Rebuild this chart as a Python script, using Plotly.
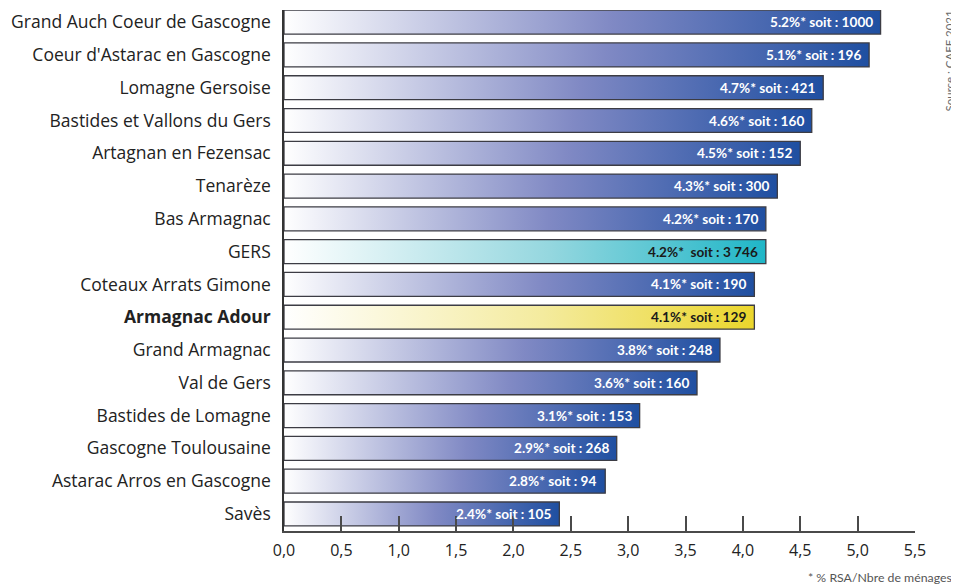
import plotly.graph_objects as go

categories = [
    "Grand Auch Coeur de Gascogne",
    "Coeur d'Astarac en Gascogne",
    "Lomagne Gersoise",
    "Bastides et Vallons du Gers",
    "Artagnan en Fezensac",
    "Tenarèze",
    "Bas Armagnac",
    "GERS",
    "Coteaux Arrats Gimone",
    "Armagnac Adour",
    "Grand Armagnac",
    "Val de Gers",
    "Bastides de Lomagne",
    "Gascogne Toulousaine",
    "Astarac Arros en Gascogne",
    "Savès",
]
rates = [5.2, 5.1, 4.7, 4.6, 4.5, 4.3, 4.2, 4.2, 4.1, 4.1, 3.8, 3.6, 3.1, 2.9, 2.8, 2.4]
households = ["1000", "196", "421", "160", "152", "300", "170", "3 746",
              "190", "129", "248", "160", "153", "268", "94", "105"]
x_ticks = [0, 0.5, 1, 1.5, 2, 2.5, 3, 3.5, 4, 4.5, 5, 5.5]
x_tick_labels = ["0,0", "0,5", "1,0", "1,5", "2,0", "2,5", "3,0", "3,5", "4,0", "4,5", "5,0", "5,5"]

BLUE = [[0, "#ffffff"], [0.55, "#8089c4"], [1, "#1f4fa1"]]
CYAN = [[0, "#ffffff"], [0.55, "#95d7df"], [1, "#1fb6c7"]]
YELLOW = [[0, "#ffffff"], [0.55, "#f4eb9e"], [1, "#ebd62c"]]

n = len(categories)
half = 0.365
fig = go.Figure()
ypos = []
for i, (cat, v, hh) in enumerate(zip(categories, rates, households)):
    y = n - 1 - i
    ypos.append(y)
    if cat == "GERS":
        cs, tc, sep = CYAN, "#1a1a1a", "*  soit : "
    elif cat == "Armagnac Adour":
        cs, tc, sep = YELLOW, "#1a1a1a", "* soit : "
    else:
        cs, tc, sep = BLUE, "#ffffff", "* soit : "
    fig.add_trace(go.Scatter(
        x=[0, v, v, 0, 0],
        y=[y - half, y - half, y + half, y + half, y - half],
        mode="lines", fill="toself",
        fillgradient=dict(type="horizontal", colorscale=cs),
        line=dict(color="#3c3c44", width=1.3),
        hoverinfo="skip", showlegend=False,
    ))
    fig.add_annotation(
        x=v, y=y, xref="x", yref="y", xanchor="right", yanchor="middle",
        xshift=-6, showarrow=False,
        text=f"<b>{v}%{sep}{hh}</b>",
        font=dict(family="Lato", size=13.6, color=tc),
    )

ticktext = [f"<b>{c}</b>" if c == "Armagnac Adour" else c for c in categories]

# page body adds an 8px offset; compensate so the plot area lands at x 284-915, y 10-531
fig.update_layout(
    width=951, height=579,
    margin=dict(l=276, r=44, t=2, b=56),
    paper_bgcolor="white", plot_bgcolor="white",
    font=dict(family="Open Sans", color="#222222"),
    xaxis=dict(
        range=[0, 5.5], tickvals=x_ticks, ticktext=x_tick_labels,
        ticks="inside", ticklen=15, tickwidth=1.6, tickcolor="#4a4a4a",
        showline=True, linecolor="#4a4a4a", linewidth=2,
        showgrid=False, zeroline=False, ticklabelstandoff=4,
        tickfont=dict(family="Open Sans", size=16, color="#222222"),
    ),
    yaxis=dict(
        range=[-0.52, n - 1 + half + 0.005], tickvals=ypos, ticktext=ticktext,
        showline=True, linecolor="#333333", linewidth=1.5,
        showgrid=False, zeroline=False, ticks="", ticklabelstandoff=8,
        tickfont=dict(family="Open Sans", size=17.5, color="#222222"),
    ),
)

fig.add_annotation(
    xref="paper", yref="paper", x=(949 - 284) / 631, y=(531 - 114) / 521,
    xanchor="center", yanchor="bottom", textangle=-90, showarrow=False,
    text="Source : CAFF 2021", font=dict(family="Lato", size=11.5, color="#6a6a6a"),
)
fig.add_annotation(
    xref="paper", yref="paper", x=(806 - 284) / 631, y=-(577 - 531) / 521,
    xanchor="left", yanchor="middle", showarrow=False,
    text="* % RSA/Nbre de ménages", font=dict(family="Lato", size=12.3, color="#555555"),
)

fig.write_html("out.html")
